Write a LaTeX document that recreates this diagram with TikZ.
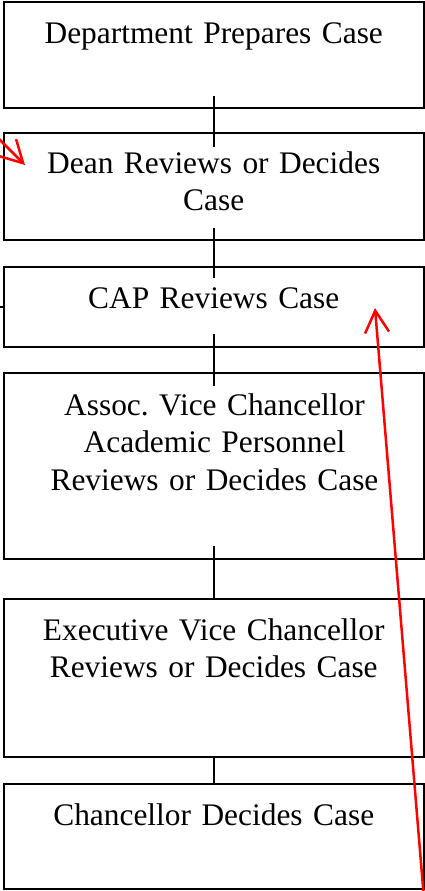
\documentclass[tikz,border=0pt]{standalone}
\usepackage{fontspec}
\setmainfont{Liberation Serif}
\usetikzlibrary{arrows.meta,calc}
\tikzset{
  box/.style={draw=black, line width=2pt, rectangle, inner sep=0pt, minimum width=420.5pt},
  boxtext/.style={anchor=base, text width=415pt, align=center, inner sep=0pt, font=\fontsize{31.4}{37.5}\selectfont\frenchspacing},
  link/.style={draw=black, line width=1.8pt},
  redarrow/.style={draw=red, line width=2.5pt, -{Straight Barb[length=22pt,width=24pt,line width=2.5pt]}}
}
\begin{document}
\begin{tikzpicture}[x=1pt,y=-1pt]
\useasboundingbox (0,0) rectangle (425,891);
\fill[white] (0,0) rectangle (425,891);
% boxes
\node[box, minimum height=106pt] (b1) at (213.75,55) {};
\node[box, minimum height=107pt] (b2) at (213.75,186.5) {};
\node[box, minimum height=80pt] (b3) at (213.75,307) {};
\node[box, minimum height=186pt] (b4) at (213.75,466) {};
\node[box, minimum height=158pt] (b5) at (213.75,678) {};
\node[box, minimum height=105pt] (b6) at (213.75,836.5) {};
% texts
\node[boxtext] (t1) at (213.75,44) {Department Prepares Case};
\node[boxtext] (t2) at (213.75,173) {Dean Reviews or Decides\\Case};
\node[boxtext] (t3) at (213.75,308) {CAP Reviews Case};
\node[boxtext] (t4) at (214.5,415) {Assoc. Vice Chancellor\\Academic Personnel\\Reviews or Decides Case};
\node[boxtext] (t5) at (213.75,640) {Executive Vice Chancellor\\Reviews or Decides Case};
\node[boxtext] (t6) at (213.75,825) {Chancellor Decides Case};
% connectors
\draw[link] ($(b1.south)+(0,-13)$) -- ($(b2.north)+(0,15)$);
\draw[link] ($(b2.south)+(0,-13)$) -- ($(b3.north)+(0,12)$);
\draw[link] ($(b3.south)+(0,-14)$) -- ($(b4.north)+(0,14)$);
\draw[link] ($(b4.south)+(0,-14)$) -- ($(b5.north)+(0,1)$);
\draw[link] (b5.south) -- (b6.north);
\coordinate (stub) at (0,307);
\draw[link] (stub) -- (b3.west);
% red arrows
\coordinate (r1s) at (-4,136);
\coordinate (r1e) at (25,165);
\draw[redarrow] (r1s) -- (r1e);
\coordinate (r2s) at (423.5,893);
\coordinate (r2e) at (375,308);
\draw[redarrow] (r2s) -- (r2e);
\end{tikzpicture}
\end{document}
